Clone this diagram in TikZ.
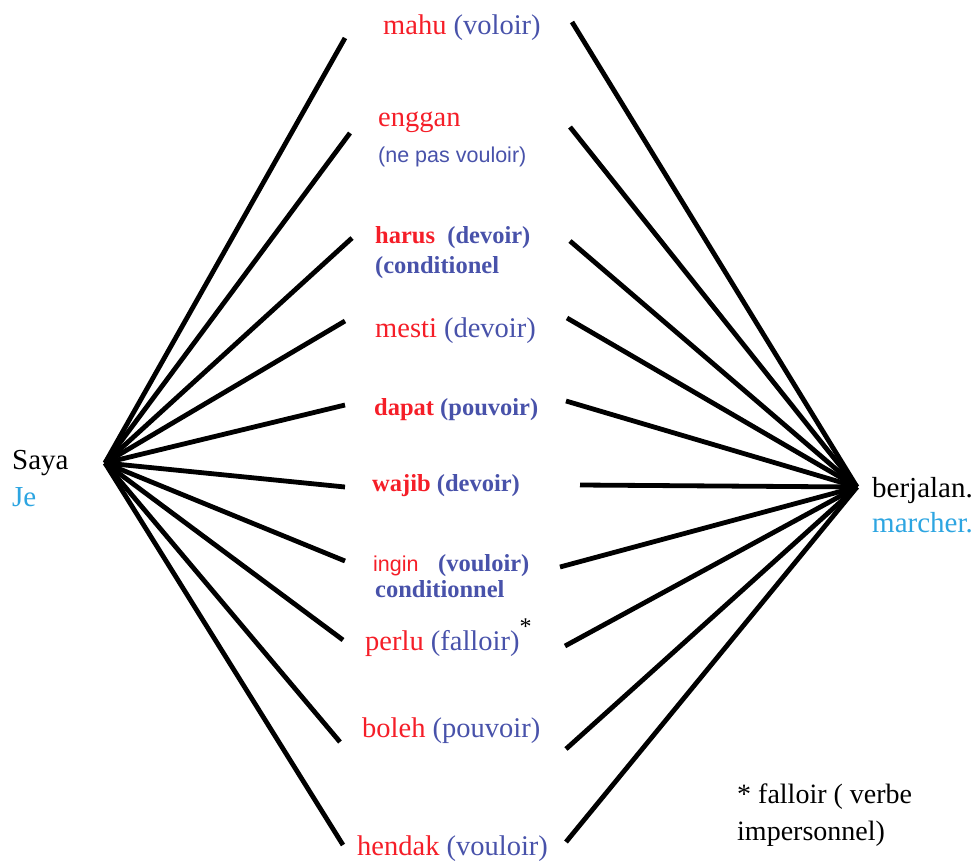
\documentclass[tikz,border=0pt]{standalone}
\usepackage{fontspec}
\setmainfont{Liberation Serif}
\setsansfont{Liberation Sans}
\usepackage{tikz}
\definecolor{wred}{RGB}{245,30,40}
\definecolor{wblue}{RGB}{72,82,170}
\definecolor{wcyan}{RGB}{45,165,225}
\newcommand{\regfont}{\fontsize{28.5}{32}\selectfont}
\newcommand{\boldfont}{\fontsize{24.5}{28}\selectfont\bfseries}
\newcommand{\smallsans}{\fontsize{21.5}{25}\selectfont\sffamily}
\tikzstyle{word} = [anchor=base west, inner sep=0pt, font=\regfont]
\tikzstyle{bword} = [anchor=base west, inner sep=0pt, font=\boldfont]
\tikzstyle{sword} = [anchor=base west, inner sep=0pt, font=\smallsans]
\tikzstyle{side} = [anchor=base west, inner sep=0pt, font=\fontsize{29}{33}\selectfont]
\tikzstyle{link} = [line width=4.8pt]

\begin{document}
\begin{tikzpicture}[x=1pt,y=-1pt]
\useasboundingbox (0,0) rectangle (980,864);

\node (saya) [side] at (12,469) {Saya};
\node (je) [side,text=wcyan] at (12,506) {Je};
\node (berjalan) [side] at (872,497) {berjalan.};
\node (marcher) [side,text=wcyan] at (872,532) {marcher.};

\node (mahu) [word] at (383,35) {\textcolor{wred}{mahu} \textcolor{wblue}{(voloir)}};
\node (enggan) [word,text=wred] at (378,127) {enggan};
\node (enggantr) [sword,text=wblue] at (378,163) {(ne pas vouloir)};
\node (harus) [bword] at (375,243) {\textcolor{wred}{harus}\ \ \textcolor{wblue}{(devoir)}};
\node (harustr) [bword,text=wblue] at (375,273) {(conditionel};
\node (mesti) [word] at (375,337) {\textcolor{wred}{mesti} \textcolor{wblue}{(devoir)}};
\node (dapat) [bword] at (374,415) {\textcolor{wred}{dapat} \textcolor{wblue}{(pouvoir)}};
\node (wajib) [bword] at (372,491) {\textcolor{wred}{wajib} \textcolor{wblue}{(devoir)}};
\node (ingin) [sword,text=wred] at (373,571) {ingin};
\node (ingintr) [bword,text=wblue] at (438,571) {(vouloir)};
\node (ingincond) [bword,text=wblue] at (375,597) {conditionnel};
\node (perlu) [word] at (365,650) {\textcolor{wred}{perlu} \textcolor{wblue}{(falloir)}\raisebox{0.55em}{\fontsize{24}{24}\selectfont *}};
\node (boleh) [word] at (362,737) {\textcolor{wred}{boleh} \textcolor{wblue}{(pouvoir)}};
\node (hendak) [word] at (357,855) {\textcolor{wred}{hendak} \textcolor{wblue}{(vouloir)}};

\node (note) [anchor=base west,inner sep=0pt,font=\fontsize{28}{32}\selectfont] at (737,803) {* falloir ( verbe};
\node (note2) [anchor=base west,inner sep=0pt,font=\fontsize{28}{32}\selectfont] at (737,840) {impersonnel)};

% hubs
\coordinate (L) at (105,463);
\coordinate (R) at (857,487);

% free ends of the links
\coordinate (l1) at (345,38);  \coordinate (r1) at (572,22);
\coordinate (l2) at (350,133); \coordinate (r2) at (570,127);
\coordinate (l3) at (352,238); \coordinate (r3) at (570,241);
\coordinate (l4) at (345,321); \coordinate (r4) at (567,318);
\coordinate (l5) at (345,405); \coordinate (r5) at (566,401);
\coordinate (l6) at (345,487); \coordinate (r6) at (580,485);
\coordinate (l7) at (345,561); \coordinate (r7) at (560,567);
\coordinate (l8) at (343,640); \coordinate (r8) at (565,646);
\coordinate (l9) at (340,742); \coordinate (r9) at (566,749);
\coordinate (l10) at (343,845); \coordinate (r10) at (566,842);

\foreach \i in {1,...,10}
{
    \draw[link] (L) -- (l\i);
    \draw[link] (r\i) -- (R);
}

\end{tikzpicture}
\end{document}
